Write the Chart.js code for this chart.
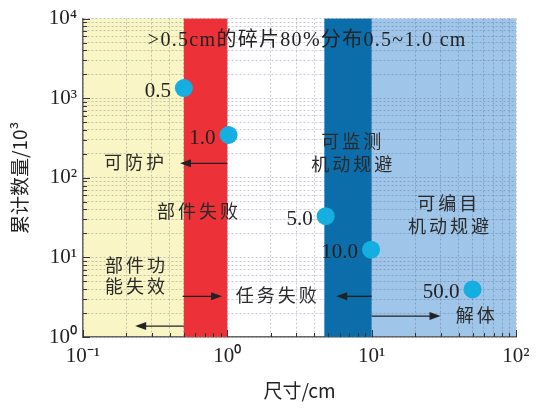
<!DOCTYPE html>
<html>
<head>
<meta charset="utf-8">
<script src="https://cdn.jsdelivr.net/npm/chart.js@4"></script>
<style>
html,body{margin:0;padding:0;background:#fff;}
#wrap{width:546px;height:408px;}
</style>
</head>
<body>
<div id="wrap"><canvas id="c" width="546" height="408"></canvas></div>
<script>
// ---- data ----
const xRange = [0.1, 100];
const yRange = [1, 10000];
const pointX = [0.5, 1.02, 4.8, 9.9, 50];
const pointCount = [1340, 345, 33, 12.5, 3.96];
const pointLabels = ['0.5', '1.0', '5.0', '10.0', '50.0'];
const bandFrom = [0.1, 0.5, 4.7, 10];
const bandTo = [0.5, 1.0, 10, 100];
const xTitle = '尺寸/cm';
const yTitle = '累计数量/10³';
const headline = '>0.5cm的碎片80%分布0.5~1.0 cm';
const noteText = ['可防护', '部件失败', '可监测', '机动规避', '可编目', '机动规避', '部件功', '能失效', '任务失败', '解体'];
const noteX = [0.226, 0.622, 7.22, 7.28, 33.4, 34, 0.229, 0.229, 2.18, 52.3];
const noteY = [156, 38.3, 285, 147, 48.1, 24.9, 7.89, 4.32, 3.34, 1.88];
const arrowX0 = [1.0, 0.49, 10, 10, 0.5];
const arrowX1 = [0.47, 0.92, 5.68, 30, 0.23];
const arrowY = [152, 3.24, 3.24, 1.83, 1.37];

// ---- styles ----
const bandColor = ['#FAF5C4', '#EC3238', '#0B6DAA', '#9FC5E8'];
const bandOnTop = [false, true, true, false];
const serif = '"Liberation Serif", "Noto Sans CJK SC"';
const cjk = '"Noto Sans CJK SC", "Liberation Serif"';
const SUP = {'-':'⁻','0':'⁰','1':'¹','2':'²','3':'³','4':'⁴','5':'⁵','6':'⁶','7':'⁷','8':'⁸','9':'⁹'};
function pow10Label(v){
  const e = Math.round(Math.log10(v));
  return '10' + String(e).split('').map(c => SUP[c]).join('');
}
function isPow10(v){ const l = Math.log10(v); return Math.abs(l - Math.round(l)) < 1e-9; }
function logTicks(min, max){
  const out = [];
  for (let e = Math.round(Math.log10(min)); e < Math.round(Math.log10(max)); e++) {
    for (let m = 1; m < 10; m++) out.push(m * Math.pow(10, e));
  }
  out.push(max);
  return out.map(v => ({value: +v.toPrecision(6)}));
}

function drawBands(chart, top){
  const {ctx, chartArea: a, scales: {x}} = chart;
  ctx.save();
  for (let i = 0; i < bandFrom.length; i++) {
    if (bandOnTop[i] !== top) continue;
    const x0 = x.getPixelForValue(bandFrom[i]);
    const x1 = x.getPixelForValue(bandTo[i]);
    ctx.fillStyle = bandColor[i];
    ctx.fillRect(x0, a.top, x1 - x0, a.bottom - a.top);
  }
  ctx.restore();
}

const overlay = {
  id: 'overlay',
  beforeDraw(chart){
    const {ctx} = chart;
    ctx.save(); ctx.fillStyle = '#fff'; ctx.fillRect(0, 0, chart.width, chart.height); ctx.restore();
    drawBands(chart, false);
  },
  beforeDatasetsDraw(chart){
    drawBands(chart, true);
    const {ctx, chartArea: a, scales: {x, y}} = chart;
    ctx.save();
    // inward ticks
    ctx.strokeStyle = '#333'; ctx.lineWidth = 1;
    y.ticks.forEach(t => {
      const py = Math.round(y.getPixelForValue(t.value)) + 0.5;
      const len = isPow10(t.value) ? 7 : 4;
      ctx.beginPath(); ctx.moveTo(a.left, py); ctx.lineTo(a.left + len, py); ctx.stroke();
    });
    x.ticks.forEach(t => {
      const px = Math.round(x.getPixelForValue(t.value)) + 0.5;
      const len = isPow10(t.value) ? 7 : 4;
      ctx.beginPath(); ctx.moveTo(px, a.bottom); ctx.lineTo(px, a.bottom - len); ctx.stroke();
    });
    // headline
    ctx.fillStyle = '#222';
    ctx.textBaseline = 'middle';
    ctx.textAlign = 'center';
    ctx.font = '20px ' + serif;
    ctx.letterSpacing = '1.3px';
    ctx.fillText(headline, x.getPixelForValue(3.58), y.getPixelForValue(5320));
    // notes
    ctx.font = '18px ' + cjk;
    ctx.letterSpacing = '3px';
    ctx.fillStyle = '#2a2a2a';
    for (let i = 0; i < noteText.length; i++) {
      ctx.fillText(noteText[i], x.getPixelForValue(noteX[i]) + 1.5, y.getPixelForValue(noteY[i]));
    }
    ctx.letterSpacing = '0px';
    // point labels
    ctx.font = '21px ' + serif;
    ctx.textAlign = 'right';
    ctx.fillStyle = '#222';
    for (let i = 0; i < pointX.length; i++) {
      ctx.fillText(pointLabels[i], x.getPixelForValue(pointX[i]) - 13, y.getPixelForValue(pointCount[i]) + 3);
    }
    // arrows
    ctx.strokeStyle = '#222'; ctx.fillStyle = '#222'; ctx.lineWidth = 1.4;
    for (let i = 0; i < arrowX0.length; i++) {
      const x0 = x.getPixelForValue(arrowX0[i]);
      const x1 = x.getPixelForValue(arrowX1[i]);
      const py = y.getPixelForValue(arrowY[i]);
      const dir = Math.sign(x1 - x0);
      ctx.beginPath(); ctx.moveTo(x0, py); ctx.lineTo(x1 - dir * 8, py); ctx.stroke();
      ctx.beginPath(); ctx.moveTo(x1, py); ctx.lineTo(x1 - dir * 11, py - 4); ctx.lineTo(x1 - dir * 11, py + 4); ctx.closePath(); ctx.fill();
    }
    ctx.restore();
  }
};

const gridOpts = {
  color: 'rgba(60,60,100,0.28)',
  lineWidth: 1,
  drawTicks: false
};

new Chart(document.getElementById('c'), {
  type: 'scatter',
  data: {
    datasets: [{
      data: pointX.map((v, i) => ({x: v, y: pointCount[i]})),
      backgroundColor: '#14AEE0',
      borderWidth: 0,
      pointRadius: 9,
      pointHoverRadius: 9
    }]
  },
  options: {
    responsive: false,
    devicePixelRatio: 1,
    animation: false,
    events: [],
    layout: {padding: {top: 16, right: 30, left: 0, bottom: 0}},
    plugins: {legend: {display: false}, tooltip: {enabled: false}},
    scales: {
      x: {
        type: 'logarithmic',
        min: xRange[0], max: xRange[1],
        afterBuildTicks: s => { s.ticks = logTicks(xRange[0], xRange[1]); },
        afterFit: s => { s.height = 71; },
        grid: Object.assign({}, gridOpts),
        border: {display: true, color: '#666', width: 1.5, dash: [2, 2]},
        ticks: {
          autoSkip: false, maxRotation: 0, padding: 7,
          color: '#222', font: {family: serif, size: 21},
          callback: v => isPow10(v) ? pow10Label(v) : ''
        },
        title: {display: true, text: xTitle, color: '#222', font: {family: cjk, size: 19}, padding: {top: 4, bottom: 6}}
      },
      y: {
        type: 'logarithmic',
        min: yRange[0], max: yRange[1],
        afterBuildTicks: s => { s.ticks = logTicks(yRange[0], yRange[1]); },
        afterFit: s => { s.width = 83; },
        grid: Object.assign({}, gridOpts),
        border: {display: true, color: '#666', width: 1.5, dash: [2, 2]},
        ticks: {
          autoSkip: false, padding: 6,
          color: '#222', font: {family: serif, size: 21},
          callback: v => isPow10(v) ? pow10Label(v) : ''
        },
        title: {display: true, text: yTitle, color: '#222', font: {family: cjk, size: 19}, padding: {top: 8, bottom: 4}}
      }
    }
  },
  plugins: [overlay]
});
</script>
</body>
</html>
